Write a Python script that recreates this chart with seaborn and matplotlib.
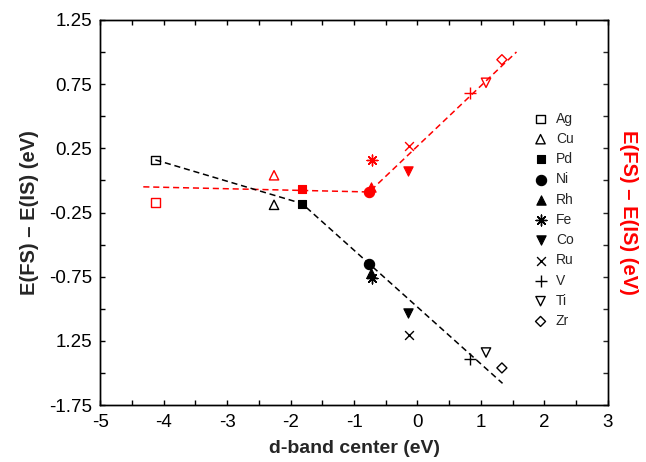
import matplotlib
matplotlib.use('Agg')
import matplotlib.pyplot as plt
import pandas as pd
import seaborn as sns

# metals and their d-band centers (eV)
metals = ['Ag', 'Cu', 'Pd', 'Ni', 'Rh', 'Fe', 'Co', 'Ru', 'V', 'Ti', 'Zr']
dband = [-4.13, -2.26, -1.82, -0.76, -0.74, -0.71, -0.15, -0.13, 0.82, 1.08, 1.33]
# E(FS) - E(IS), left axis (black) and right axis (red)
e_black = [0.16, -0.19, -0.18, -0.65, -0.72, -0.76, -1.03, -1.20, -1.39, -1.34, -1.46]
e_red = [-0.17, 0.04, -0.07, -0.09, -0.05, 0.16, 0.07, 0.27, 0.68, 0.76, 0.94]
# dashed guide lines
black_line_x = [-4.13, -1.82, 1.34]
black_line_y = [0.16, -0.18, -1.58]
red_line_x = [-4.32, -0.76, 1.56]
red_line_y = [-0.05, -0.09, 1.0]

markers = ['s', '^', 's', 'o', '^', (8, 2, 0), 'v', 'x', '+', 'v', 'D']
filled = [False, False, True, True, True, None, True, None, None, False, False]
sizes = [38, 45, 38, 55, 45, 60, 45, 40, 70, 45, 26]

yticks = [1.25, 0.75, 0.25, -0.25, -0.75, -1.25, -1.75]
ytick_labels = ['1.25', '0.75', '0.25', '-0.25', '-0.75', '1.25', '-1.75']

df = pd.DataFrame({'metal': metals, 'dband': dband, 'black': e_black, 'red': e_red})

sns.set_style('ticks')
plt.rcParams['font.family'] = ['Liberation Sans', 'DejaVu Sans']
plt.rcParams['axes.unicode_minus'] = False

fig, ax = plt.subplots(figsize=(6.46, 4.62), dpi=100)
fig.subplots_adjust(left=0.155, right=0.941, top=0.957, bottom=0.123)
ax2 = ax.twinx()


def draw(axis, col, color, with_label):
    for i, row in df.iterrows():
        m = markers[i]
        kw = dict(x=[row['dband']], y=[row[col]], marker=m, s=sizes[i], ax=axis, zorder=3)
        if filled[i] is None:
            kw.update(color=color, linewidth=1.0)
        elif filled[i]:
            kw.update(color=color, edgecolor=color, linewidth=0.8)
        else:
            kw.update(facecolor='none', edgecolor=color, linewidth=1.0)
        if with_label:
            kw['label'] = row['metal']
        sns.scatterplot(**kw)


sns.lineplot(x=black_line_x, y=black_line_y, ax=ax, color='black', linewidth=1.1,
             sort=False).lines[0].set_dashes((4, 2.5))
draw(ax, 'black', 'black', True)
sns.lineplot(x=red_line_x, y=red_line_y, ax=ax2, color='#ff0000', linewidth=1.1,
             sort=False).lines[0].set_dashes((4, 2.5))
draw(ax2, 'red', '#ff0000', False)

for a in (ax, ax2):
    a.set_xlim(-5, 3)
    a.set_ylim(-1.75, 1.25)
    for s in a.spines.values():
        s.set_linewidth(1.0)
        s.set_color('black')

ax.set_xticks(range(-5, 4))
ax.set_xticks([x + 0.5 for x in range(-5, 3)], minor=True)
ax.set_yticks(yticks)
ax.set_yticklabels(ytick_labels)
ax.set_yticks([-1.5, -1.0, -0.5, 0.0, 0.5, 1.0], minor=True)
ax.tick_params(which='both', direction='in', top=True, right=False, length=3.5, width=1.0,
               labelsize=13.5, colors='black', pad=6)
ax2.set_yticks([-1.75 + 0.25 * i for i in range(13)])
ax2.set_yticklabels([])
ax2.tick_params(which='both', direction='in', length=3.5, width=1.0)

ax.set_xlabel('d-band center (eV)', fontsize=14, fontweight='bold', labelpad=7)
ax.set_ylabel('E(FS) – E(IS) (eV)', fontsize=14.5, fontweight='bold', labelpad=7)
ax2.set_ylabel('E(FS) – E(IS) (eV)', fontsize=14.5, fontweight='bold', color='#ff0000',
               rotation=270, labelpad=18)

leg = ax.legend(loc='upper left', bbox_to_anchor=(0.84, 0.78), frameon=False, fontsize=10,
                borderpad=0, handlelength=1.0, handletextpad=0.6, labelspacing=0.45)
ax.set_zorder(ax2.get_zorder() + 1)
ax.patch.set_visible(False)

fig.savefig('out.png', dpi=100)
